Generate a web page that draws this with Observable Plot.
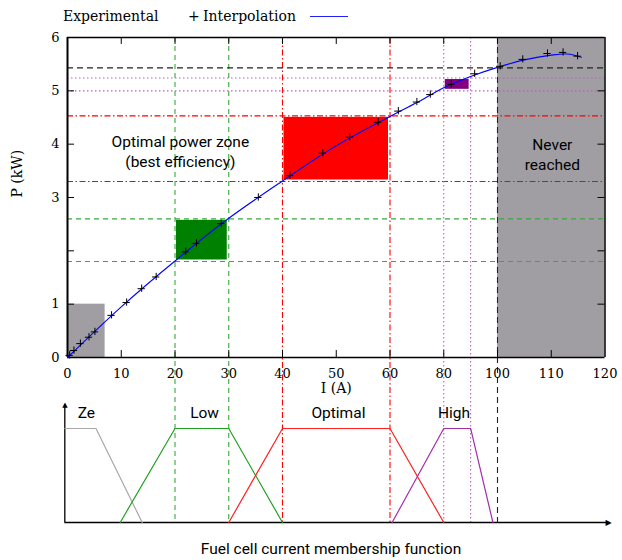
<!DOCTYPE html>
<html><head><meta charset="utf-8">
<script src="https://cdn.jsdelivr.net/npm/d3@7"></script>
<script src="https://cdn.jsdelivr.net/npm/@observablehq/plot@0.6"></script>
<style>
body{margin:0;background:#fff;width:622px;height:560px;overflow:hidden}
#legend{position:relative;height:28px;font-family:"DejaVu Serif",serif;font-size:14px;color:#000}
#legend span{position:absolute;top:7px;line-height:18px;white-space:pre}
#legend .ln{position:absolute;left:310px;top:16px;width:38px;height:1.2px;background:#2020ff}
#chart svg{display:block;overflow:visible}
#caption{height:22px;line-height:22px;text-align:center;padding-left:40px;font-family:Roboto,sans-serif;font-size:15.5px;color:#000}
</style></head><body>
<div id="legend"><span style="left:63px">Experimental</span><span style="left:188px">+</span><span style="left:203px">Interpolation</span><div class="ln"></div></div>
<div id="chart"></div>
<div id="caption">Fuel cell current membership function</div>
<script>
// ---- tick labels ----
const xTickValues = [0,10,20,30,40,50,60,80,100,110,120];
const xTickLabels = ["0","10","20","30","40","50","60","80","100","110","120"];
const yTickValues = [0,1,2,3,4,5,6];
const yTickLabels = ["0","1","","3","4","5","6"];

// ---- experimental points (I in A, P in kW) ----
const expCurrent = [0.4,1.2,2.4,4.0,5.1,8.2,11.0,13.8,16.5,22.0,24.0,28.6,35.5,41.4,47.5,52.5,57.8,63.1,70.0,75.0,82.8,91.5,100.5,104.7,109.3,112.2,114.9];
const expPower   = [0.04,0.13,0.26,0.38,0.48,0.79,1.03,1.29,1.51,1.98,2.14,2.51,3.0,3.41,3.83,4.13,4.41,4.62,4.79,4.93,5.12,5.32,5.46,5.59,5.70,5.72,5.65];

// ---- interpolation curve ----
const interpCurrent = [0,10,20,30,40,50,60,70,80,90,100,105,110,113,115.6];
const interpPower   = [0,0.95,1.81,2.61,3.31,3.97,4.52,4.78,5.06,5.27,5.44,5.58,5.67,5.69,5.63];

// ---- shaded zones ----
const grayX1 = [0, 100], grayX2 = [7, 120], grayY1 = [0, 0], grayY2 = [1, 6];
const zoneNames = ["Low","Optimal","High"];
const zoneX1 = [20, 40, 80], zoneX2 = [30, 60, 90];
const zoneY1 = [1.8, 3.3, 5.0], zoneY2 = [2.6, 4.53, 5.24];
const zoneFill = ["#008000","#ff0000","#800080"];
const zoneLine = ["#3aa83a","#ff0000","#c05ac8"];
const zoneDash = ["5,4","6,2.5,1.5,2.5","1.5,2.5"];
const limitCurrent = [100], limitPower = [5.43];

// ---- membership functions ----
const memberNames = ["Ze","Low","Optimal","High"];
const memberX  = [[-0.5,5.3,13.9],[9.8,20,30,40],[30,40,60,80],[60.8,80,90,98.3]];
const memberMu = [[1,1,0],[0,1,1,0],[0,1,1,0],[0,1,1,0]];
const memberColor = ["#a8a8a8","#22a022","#ff2020","#a030a8"];
const memberLabelX = [3.5, 25.5, 50.4, 83.8];
const muAxisLeft = -0.5, muAxisRight = 121.4, muAxisTop = 1.28;

// the current axis is piecewise: each labelled tick is one equal step
const xIdx = d3.scaleLinear().domain(xTickValues).range(xTickValues.map((_, i) => i));
// membership degree -> vertical position below the power panel (power units)
const muScale = d3.scaleLinear().domain([0, 1]).range([-3.094, -1.331]);
const TICK = 0.13;   // tick length (≈7px) in axis units
const PLUS = 0.068;  // half size of "+" markers

const gray = grayX1.map((x1,i)=>({x1, x2: grayX2[i], y1: grayY1[i], y2: grayY2[i]}));
const zones = zoneNames.map((n,i)=>({n, x1: zoneX1[i], x2: zoneX2[i], y1: zoneY1[i], y2: zoneY2[i], fill: zoneFill[i]}));
const expData = expCurrent.map((x,i)=>({x, y: expPower[i]}));
const interpData = interpCurrent.map((x,i)=>({x, y: interpPower[i]}));
const memberData = memberNames.flatMap((n,i)=>memberX[i].map((x,j)=>({n, x, mu: memberMu[i][j], c: memberColor[i]})));
const innerX = xTickValues.slice(1,-1), innerY = yTickValues.slice(1,-1);
const mu0 = muScale(0);
const X = v => xIdx(v);

const marks = [
  Plot.rect(gray, {x1: d=>X(d.x1), x2: d=>X(d.x2), y1:"y1", y2:"y2", fill:"#a09ea3"}),
  Plot.rect(zones, {x1: d=>X(d.x1), x2: d=>X(d.x2), y1:"y1", y2:"y2", fill:"fill", inset: 1.5}),
];
zoneNames.forEach((n,i)=>{
  marks.push(Plot.ruleX([zoneX1[i], zoneX2[i]], {x: X, y1: 6, y2: mu0, stroke: zoneLine[i], strokeWidth: 1.1, strokeDasharray: zoneDash[i]}));
  marks.push(Plot.ruleY([zoneY1[i], zoneY2[i]], {x1: X(0), x2: X(120), stroke: zoneLine[i], strokeWidth: 1.1, strokeDasharray: zoneDash[i]}));
});
marks.push(
  Plot.ruleX(limitCurrent, {x: X, y1: 6, y2: mu0, stroke: "#222", strokeWidth: 1.1, strokeDasharray: "6,4"}),
  Plot.ruleY(limitPower, {x1: X(0), x2: X(120), stroke: "#222", strokeWidth: 1.1, strokeDasharray: "6,4"}),
  // frame
  Plot.ruleY([0, 6], {x1: X(0), x2: X(120), stroke: "black", strokeWidth: 1.5}),
  Plot.ruleX([120], {x: X, y1: 0, y2: 6, stroke: "black", strokeWidth: 1.5}),
  Plot.ruleX([0], {x: X, y1: 0, y2: 6, stroke: "black", strokeWidth: 2}),
  // inward ticks on all four sides
  Plot.ruleX(innerX, {x: X, y1: 0, y2: TICK, stroke: "black", strokeWidth: 1}),
  Plot.ruleX(innerX, {x: X, y1: 6 - TICK, y2: 6, stroke: "black", strokeWidth: 1}),
  Plot.ruleY(innerY, {x1: X(0), x2: X(0) + TICK, stroke: "black", strokeWidth: 1}),
  Plot.ruleY(innerY, {x1: X(120) - TICK, x2: X(120), stroke: "black", strokeWidth: 1}),
  // tick labels
  Plot.text(xTickValues, {x: X, y: 0, dy: 16, text: (d,i)=>xTickLabels[i], fontFamily: "DejaVu Serif", fontSize: 13, fill: "black"}),
  Plot.text(yTickValues, {x: X(0), y: d=>d, dx: -8, textAnchor: "end", text: (d,i)=>yTickLabels[i], fontFamily: "DejaVu Serif", fontSize: 13, fill: "black"}),
  Plot.text(["I (A)"], {x: X(50), y: 0, dy: 31, fontFamily: "DejaVu Serif", fontSize: 14, fill: "black"}),
  Plot.text(["P (kW)"], {frameAnchor: "left", dx: -50, y: 3, rotate: -90, fontFamily: "DejaVu Serif", fontSize: 14, fill: "black"}),
  // curve + points
  Plot.line(interpData, {x: d=>X(d.x), y:"y", stroke: "#0000ff", strokeWidth: 1.1, curve: "catmull-rom"}),
  Plot.ruleX(expData, {x: d=>X(d.x), y1: d=>d.y - PLUS, y2: d=>d.y + PLUS, stroke: "black", strokeWidth: 1}),
  Plot.ruleY(expData, {y: "y", x1: d=>X(d.x) - PLUS, x2: d=>X(d.x) + PLUS, stroke: "black", strokeWidth: 1}),
  // annotations
  Plot.text(["Optimal power zone\n(best efficiency)"], {x: X(21), y: 3.88, lineHeight: 1.3, fontFamily: "Roboto", fontSize: 15.5, fill: "black"}),
  Plot.text(["Never\nreached"], {x: X(110.2), y: 3.83, lineHeight: 1.3, fontFamily: "Roboto", fontSize: 15.5, fill: "black"}),
  // membership panel
  Plot.ruleY([mu0], {x1: X(muAxisLeft), x2: X(muAxisRight) - 0.05, stroke: "black", strokeWidth: 1.3}),
  Plot.ruleX([muAxisLeft], {x: X, y1: mu0, y2: muScale(muAxisTop) - 0.05, stroke: "black", strokeWidth: 1.3}),
  Plot.text(["\u25B6"], {x: X(muAxisRight), y: mu0, dx: -4, fontFamily: "DejaVu Sans", fontSize: 8, fill: "black"}),
  Plot.text(["\u25B2"], {x: X(muAxisLeft), y: muScale(muAxisTop), dy: 3, fontFamily: "DejaVu Sans", fontSize: 7, fill: "black"}),
  Plot.line(memberData, {x: d=>X(d.x), y: d=>muScale(d.mu), z:"n", stroke:"c", strokeWidth: 1.2}),
  Plot.text(memberNames, {x: (d,i)=>X(memberLabelX[i]), y: muScale(1), dy: -15, text: d=>d, fontFamily: "Roboto", fontSize: 15.5, fill: "black"})
);

const chart = Plot.plot({
  width: 622, height: 510,
  marginLeft: 67, marginRight: 17.5, marginTop: 9, marginBottom: 16,
  x: {type: "linear", domain: [0, xTickValues.length - 1], axis: null},
  y: {type: "linear", domain: [mu0, 6], axis: null},
  color: {type: "identity"},
  style: {background: "white", overflow: "visible"},
  marks
});
document.getElementById("chart").appendChild(chart);
</script>
</body></html>
